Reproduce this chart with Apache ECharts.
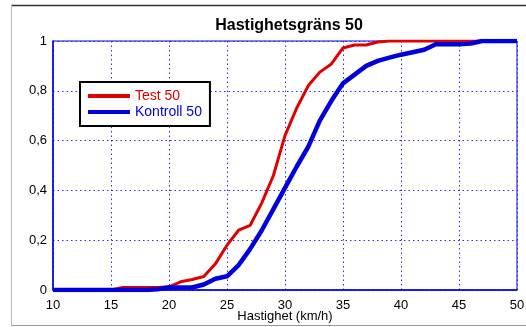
<!DOCTYPE html>
<html><head><meta charset="utf-8">
<script src="https://cdn.jsdelivr.net/npm/echarts@6/dist/echarts.min.js"></script>
<style>html,body{margin:0;padding:0;background:#fff}#c{width:526px;height:327px}</style>
</head><body><div id="c"></div>
<script>
var speeds = [10,11,12,13,14,15,16,17,18,19,20,21,22,23,24,25,26,27,28,29,30,31,32,33,34,35,36,37,38,39,40,41,42,43,44,45,46,47,48,49,50];
var test50 = [0,0,0,0,0,0,0.01,0.01,0.01,0.01,0.013,0.033,0.042,0.054,0.105,0.18,0.24,0.26,0.35,0.46,0.62,0.73,0.82,0.875,0.908,0.972,0.984,0.984,0.996,1,1,1,1,1,1,1,1,1,1,1,1];
var kontroll50 = [0,0,0,0,0,0,0,0,0,0.003,0.01,0.01,0.01,0.022,0.045,0.055,0.1,0.165,0.24,0.325,0.41,0.495,0.575,0.68,0.76,0.83,0.865,0.9,0.92,0.933,0.945,0.955,0.965,0.987,0.987,0.987,0.99,1,1,1,1];
var names = ['Test 50','Kontroll 50'];
var title = 'Hastighetsgräns 50';
var xName = 'Hastighet (km/h)';

function pairs(v){ return speeds.map(function(s,i){ return [s, v[i]]; }); }
var chart = echarts.init(document.getElementById('c'));
var font = 'Liberation Sans, Arial, sans-serif';
function gridLine(){ return {show:true, lineStyle:{color:'#2a2aff', type:[1.5,3], width:1}}; }
chart.setOption({
  animation:false,
  title:{text:title, left:284, textAlign:'center', top:13, textStyle:{fontFamily:font, fontSize:16, fontWeight:'bold', color:'#000'}},
  grid:{left:53, right:9, top:41, bottom:37, outerBoundsMode:'none', containLabel:false, show:true, borderColor:'#0000ee', borderWidth:1, backgroundColor:'#fff'},
  xAxis:{type:'value', min:10, max:50, interval:5, name:xName, nameLocation:'middle', nameGap:20, nameMoveOverlap:false,
    nameTextStyle:{fontFamily:font, fontSize:13, color:'#000', verticalAlign:'top', lineHeight:13},
    axisLine:{show:true, lineStyle:{color:'#0000ee', width:1.5}}, axisTick:{show:false},
    axisLabel:{fontFamily:font, fontSize:13, color:'#000', margin:9},
    splitLine:gridLine()},
  yAxis:{type:'value', min:0, max:1, interval:0.2,
    axisLine:{show:true, lineStyle:{color:'#0000ee', width:1.5}}, axisTick:{show:false},
    axisLabel:{fontFamily:font, fontSize:13, color:'#000', margin:6, formatter:function(v){return String(Math.round(v*10)/10).replace('.',',');}},
    splitLine:gridLine()},
  legend:{left:80, top:82, orient:'vertical', padding:[7,8,7,8], itemGap:2, itemWidth:42, itemHeight:4, icon:'rect',
    borderColor:'#000', borderWidth:2, borderRadius:0, backgroundColor:'#fff',
    textStyle:{fontFamily:font, fontSize:14},
    data:[{name:names[0], textStyle:{color:'#e00000'}},{name:names[1], textStyle:{color:'#0000dd'}}]},
  graphic:[
    {type:'line', shape:{x1:11,y1:5.5,x2:526,y2:5.5}, style:{stroke:'#333', lineWidth:1.5}, silent:true},
    {type:'line', shape:{x1:11.5,y1:5,x2:11.5,y2:325}, style:{stroke:'#bbb', lineWidth:1}, silent:true},
    {type:'line', shape:{x1:11,y1:325.5,x2:526,y2:325.5}, style:{stroke:'#999', lineWidth:1}, silent:true}
  ],
  series:[
    {name:names[0], type:'line', data:pairs(test50), symbol:'none', color:'#e00000', lineStyle:{width:3}},
    {name:names[1], type:'line', data:pairs(kontroll50), symbol:'none', color:'#0000dd', lineStyle:{width:4.5}}
  ]
});
</script></body></html>
